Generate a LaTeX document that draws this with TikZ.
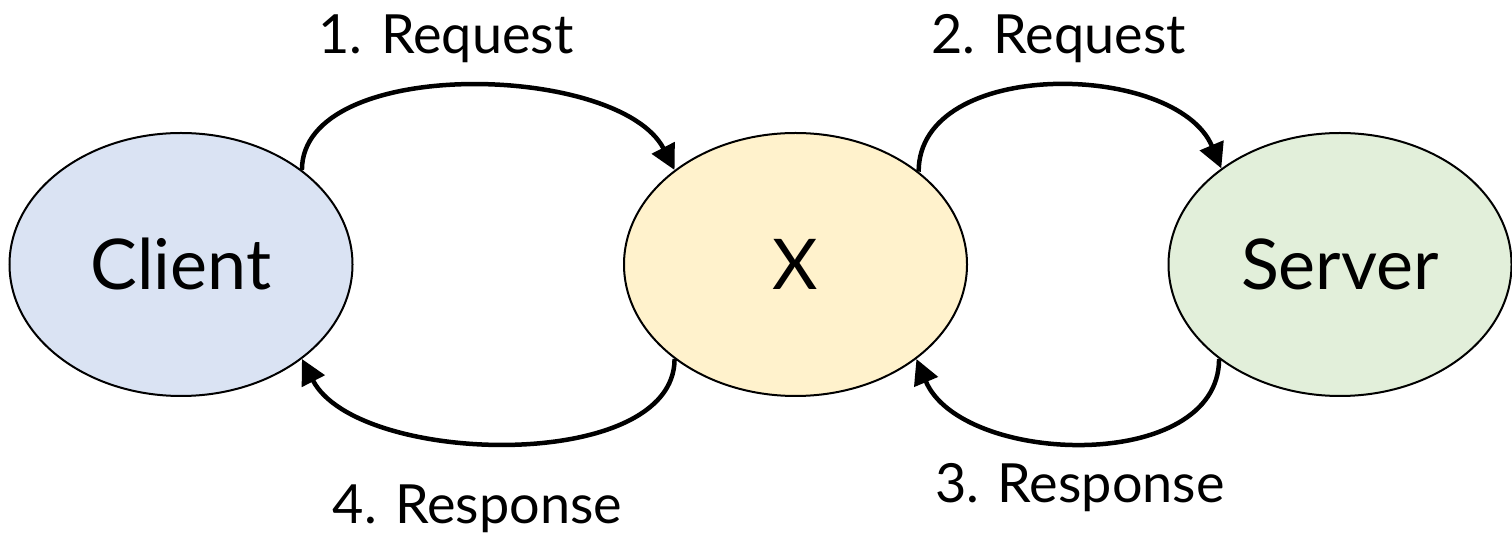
\documentclass[tikz,border=0pt]{standalone}
\usepackage{fontspec}
\setmainfont{Lato}
\usetikzlibrary{arrows.meta,shapes.geometric}
\definecolor{cblue}{HTML}{DAE3F3}
\definecolor{cyellow}{HTML}{FFF2CC}
\definecolor{cgreen}{HTML}{E2EFDA}
\begin{document}
\begin{tikzpicture}[x=1pt,y=1pt,
  ent/.style={ellipse, draw=black, line width=2pt, minimum width=343pt, minimum height=263pt, inner sep=0pt, font=\fontsize{70}{76}\selectfont},
  lbl/.style={anchor=base, inner sep=0pt, font=\fontsize{54}{60}\selectfont},
  flow/.style={line width=4.5pt, -{Triangle[length=25pt,width=25pt]}}]
\useasboundingbox (0,0) rectangle (1512,538);
\node[ent, fill=cblue] (client) at (181,273.5) {Client};
\node[ent, fill=cyellow] (x) at (795.5,273.5) {X};
\node[ent, fill=cgreen] (server) at (1340,273.5) {Server};
\draw[flow] (client.38) .. controls +(0,115) and +(-55,107) .. (x.142);
\draw[flow] (x.218) .. controls +(0,-115) and +(55,-107) .. (client.322);
\draw[flow] (x.37) .. controls +(0,115) and +(-45,107) .. (server.141);
\draw[flow] (server.218) .. controls +(0,-115) and +(45,-107) .. (x.322);
\node[lbl] (l1) at (446,484) {1. Request};
\node[lbl] (l2) at (1058.5,484) {2. Request};
\node[lbl] (l3) at (1080,35) {3. Response};
\node[lbl] (l4) at (477.5,15) {4. Response};
\end{tikzpicture}
\end{document}
